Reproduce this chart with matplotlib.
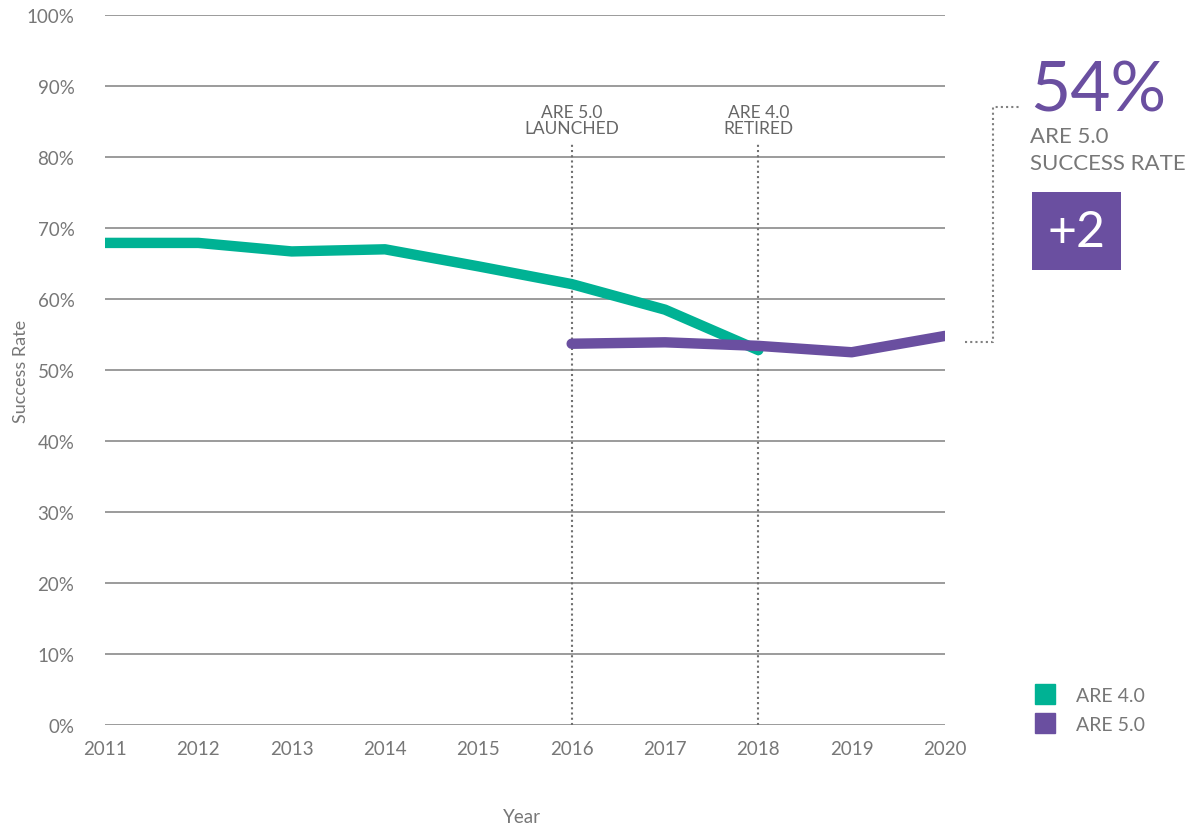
import matplotlib
matplotlib.use("Agg")
import matplotlib.pyplot as plt
from matplotlib.lines import Line2D
from matplotlib.patches import Rectangle

# valeurs (taux de réussite en %)
years = [2011, 2012, 2013, 2014, 2015, 2016, 2017, 2018, 2019, 2020]
are4_years = [2011, 2012, 2013, 2014, 2015, 2016, 2017, 2018]
are4_rate = [67.9, 67.9, 66.7, 67.0, 64.6, 62.1, 58.5, 52.8]
are5_years = [2016, 2017, 2018, 2019, 2020]
are5_rate = [53.7, 53.9, 53.4, 52.5, 54.8]
y_ticks = [0, 10, 20, 30, 40, 50, 60, 70, 80, 90, 100]
events = [(2016, "ARE 5.0\nLAUNCHED"), (2018, "ARE 4.0\nRETIRED")]
big_value = "54%"
big_label = "ARE 5.0\nSUCCESS RATE"
delta = "+2"

teal = "#00b294"
purple = "#6a4fa0"
grey = "#777777"
W, H = 1194, 828

plt.rcParams['font.family'] = ['Lato', 'DejaVu Sans']

fig = plt.figure(figsize=(W / 100, H / 100), dpi=100)
ax = fig.add_axes([105 / W, 1 - 726 / H, (945 - 105) / W, (726 - 16) / H])

ax.set_xlim(2011, 2020)
ax.set_ylim(0, 100)
ax.set_yticks(y_ticks)
ax.set_yticklabels([f"{v}%" for v in y_ticks])
ax.set_xticks(years)
ax.set_xticklabels([str(y) for y in years])
ax.grid(axis='y', color='#8a8a8a', lw=1.2)
ax.set_axisbelow(True)
for s in ax.spines.values():
    s.set_visible(False)
ax.tick_params(length=0, colors=grey, labelsize=13.5)
ax.tick_params(axis='y', pad=22)
ax.tick_params(axis='x', pad=11)

# lignes verticales pointillées
for x, txt in events:
    ax.axvline(x, ymax=0.82, color='#707070', lw=1.5, ls=(0, (1, 1.5)), zorder=1)
    ax.text(x, 82.9, txt, ha='center', va='bottom', fontsize=12.5, color='#666666',
            linespacing=1.05)

ax.plot(are4_years, are4_rate, color=teal, lw=7.5, solid_capstyle='round',
        solid_joinstyle='round', zorder=3)
ax.plot(are5_years, are5_rate, color=purple, lw=7.5, solid_capstyle='round',
        solid_joinstyle='round', zorder=4)

ax.set_ylabel("Success Rate", color=grey, fontsize=13)
ax.yaxis.set_label_coords(-0.09, 0.5)
fig.text(522 / W, 1 - 818 / H, "Year", ha='center', va='center', color=grey, fontsize=13.5)

# connecteur vers l'encadré
px, py = ax.transData.transform((are5_years[-1], are5_rate[-1]))
x0 = (px + 20) / W
y0 = (py - 6) / H
x1 = 993 / W
y_top = 1 - 108 / H
x2 = 1021 / W
fig.add_artist(Line2D([x0, x1, x1, x2], [y0, y0, y_top, y_top], transform=fig.transFigure,
                      color='#808080', lw=1.5, ls=(0, (1, 1.5))))

fig.text(1030 / W, 1 - 112 / H, big_value, color=purple, fontsize=50,
         ha='left', va='baseline')
fig.text(1030 / W, 1 - 127 / H, big_label, color=grey, fontsize=16, ha='left', va='top',
         linespacing=1.45)
fig.add_artist(Rectangle((1032 / W, 1 - 271 / H), 89 / W, 78 / H, transform=fig.transFigure,
                         color=purple, lw=0))
fig.text(1076 / W, 1 - 233 / H, delta, color='white', fontsize=36, ha='center', va='center')

handles = [Line2D([], [], marker='s', ls='', color=teal, markersize=14),
           Line2D([], [], marker='s', ls='', color=purple, markersize=14)]
leg = fig.legend(handles, ["ARE 4.0", "ARE 5.0"], loc='upper left',
                 bbox_to_anchor=(1008 / W, 1 - 670 / H), frameon=False, fontsize=14,
                 handletextpad=0.6, labelspacing=0.65)
for t in leg.get_texts():
    t.set_color(grey)

fig.savefig("out.png", dpi=100)
